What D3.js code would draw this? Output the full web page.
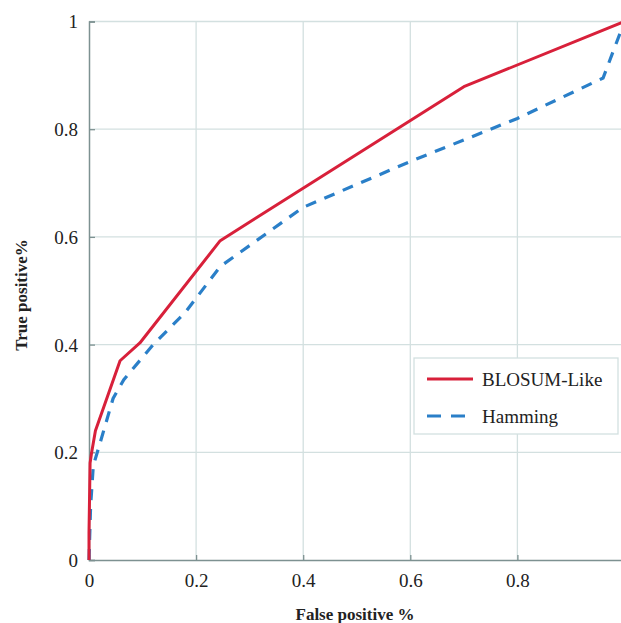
<!DOCTYPE html>
<html>
<head>
<meta charset="utf-8">
<script src="https://cdn.jsdelivr.net/npm/d3@7/dist/d3.min.js"></script>
<style>
  html, body { margin: 0; padding: 0; background: #fff; overflow: hidden; }
  svg { display: block; }
  text { font-family: "Liberation Serif", "Times New Roman", serif; fill: #222; }
</style>
</head>
<body>
<svg id="chart" width="621" height="623"></svg>
<script>
// ---- data ----
const xTicks = [0, 0.2, 0.4, 0.6, 0.8, 1];
const yTicks = [0, 0.2, 0.4, 0.6, 0.8, 1];
const xTickLabels = ["0", "0.2", "0.4", "0.6", "0.8", "1"];
const yTickLabels = ["0", "0.2", "0.4", "0.6", "0.8", "1"];
const seriesNames = ["BLOSUM-Like", "Hamming"];

const blosumFP = [0, 0, 0.002, 0.005, 0.012, 0.058, 0.095, 0.245, 0.7, 1];
const blosumTP = [0, 0.05, 0.18, 0.2, 0.24, 0.37, 0.403, 0.593, 0.879, 1];

const hammingFP = [0, 0.003, 0.008, 0.02, 0.045, 0.065, 0.12, 0.18, 0.245, 0.4, 0.6, 0.8, 0.96, 1];
const hammingTP = [0, 0.1, 0.175, 0.215, 0.3, 0.335, 0.4, 0.46, 0.545, 0.655, 0.74, 0.82, 0.895, 1];

const xTitle = "False positive %";
const yTitle = "True positive%";

// ---- layout ----
const svg = d3.select("#chart");
const x = d3.scaleLinear().domain([0, 1]).range([89, 624.5]);
const y = d3.scaleLinear().domain([0, 1]).range([560, 21.5]);

const gridColor = "#d3e0e0";
const axisColor = "#7d9191";

// grid
const g = svg.append("g");
g.selectAll(".vgrid").data(xTicks.slice(1)).join("line")
  .attr("x1", d => x(d)).attr("x2", d => x(d))
  .attr("y1", y(0)).attr("y2", y(1))
  .attr("stroke", gridColor).attr("stroke-width", 1.3);
g.selectAll(".hgrid").data(yTicks.slice(1)).join("line")
  .attr("x1", x(0)).attr("x2", x(1))
  .attr("y1", d => y(d)).attr("y2", d => y(d))
  .attr("stroke", gridColor).attr("stroke-width", 1.3);

// axes (inward ticks)
const xAxis = d3.axisBottom(x).tickValues(xTicks).tickSize(-5).tickPadding(14)
  .tickFormat((d, i) => xTickLabels[i]);
const yAxis = d3.axisLeft(y).tickValues(yTicks).tickSize(-6).tickPadding(11)
  .tickFormat((d, i) => yTickLabels[i]);

const gx = svg.append("g").attr("transform", `translate(0,${y(0)})`).call(xAxis);
const gy = svg.append("g").attr("transform", `translate(${x(0)},0)`).call(yAxis);
[gx, gy].forEach(a => {
  a.select(".domain").attr("stroke", axisColor).attr("stroke-width", 1.5);
  a.selectAll(".tick line").attr("stroke", axisColor).attr("stroke-width", 1.3);
  a.selectAll(".tick text").attr("font-family", "Liberation Serif, serif")
    .attr("font-size", 19).attr("fill", "#222");
});
gx.selectAll(".tick text").attr("dy", "0.71em");
gy.selectAll(".tick text").attr("dy", "0.34em");

// lines
const mk = (xs, ys) => xs.map((v, i) => [v, ys[i]]);
const line = d3.line().x(d => x(d[0])).y(d => y(d[1]));

svg.append("path").datum(mk(hammingFP, hammingTP))
  .attr("d", line).attr("fill", "none")
  .attr("stroke", "#2a7fc8").attr("stroke-width", 3.2)
  .attr("stroke-dasharray", "11,9");

svg.append("path").datum(mk(blosumFP, blosumTP))
  .attr("d", line).attr("fill", "none")
  .attr("stroke", "#d8203a").attr("stroke-width", 3)
  .attr("stroke-linejoin", "round");

// legend
const lg = svg.append("g");
lg.append("rect").attr("x", 414).attr("y", 358).attr("width", 204).attr("height", 76)
  .attr("fill", "#fff").attr("stroke", "#d3e0e0").attr("stroke-width", 1.3);
const legendItems = [
  { name: seriesNames[0], color: "#d8203a", dash: null, yy: 379 },
  { name: seriesNames[1], color: "#2a7fc8", dash: "14,10", yy: 416 }
];
legendItems.forEach(it => {
  lg.append("line").attr("x1", 427).attr("x2", 473).attr("y1", it.yy).attr("y2", it.yy)
    .attr("stroke", it.color).attr("stroke-width", 3.2)
    .attr("stroke-dasharray", it.dash);
  lg.append("text").attr("x", 482).attr("y", it.yy + 6.5)
    .attr("font-size", 19).text(it.name);
});

// titles
svg.append("text").attr("x", 355).attr("y", 620).attr("text-anchor", "middle")
  .attr("font-size", 17).attr("font-weight", "bold").text(xTitle);
svg.append("text").attr("transform", "translate(27,295) rotate(-90)")
  .attr("text-anchor", "middle").attr("font-size", 17).attr("font-weight", "bold")
  .text(yTitle);
</script>
</body>
</html>
